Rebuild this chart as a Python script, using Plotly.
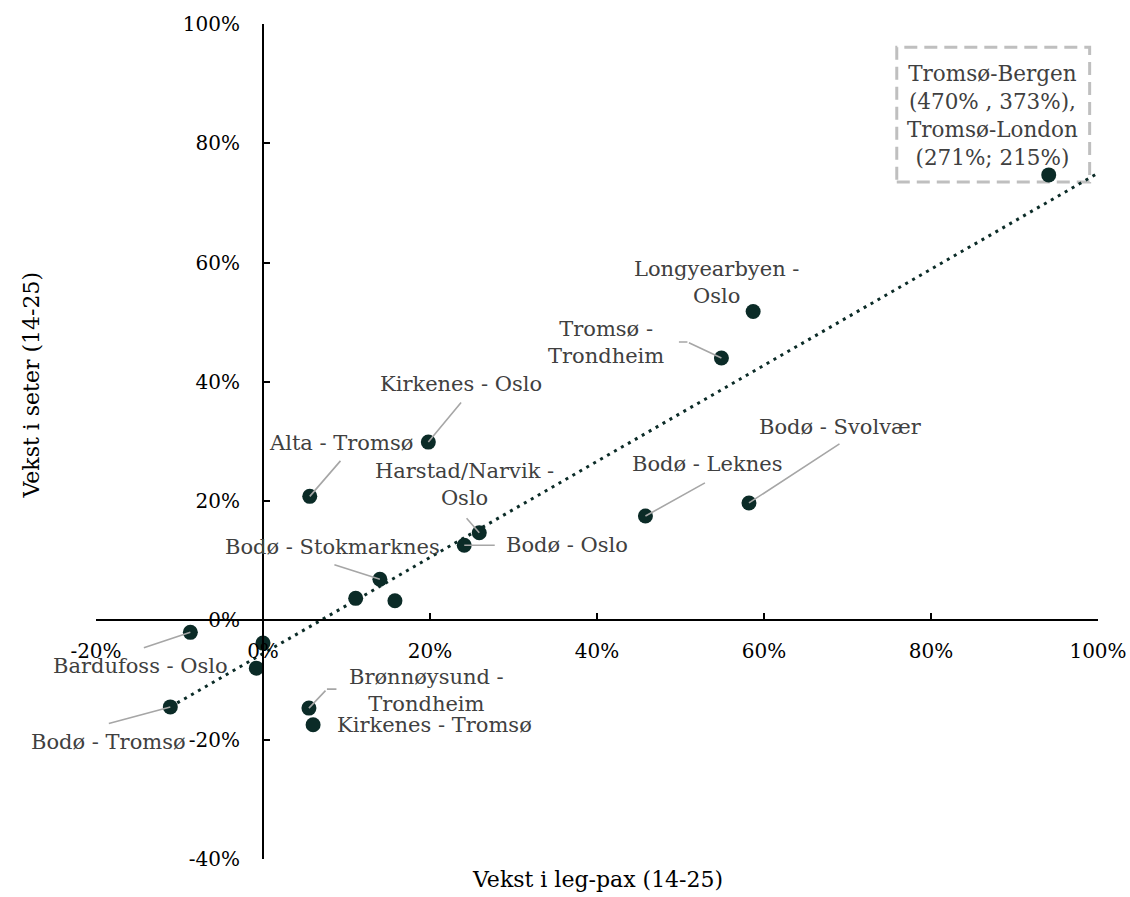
import plotly.graph_objects as go

# ---------------- data ----------------
routes = [
    "Tromsø-Bergen/London", "Longyearbyen - Oslo", "Tromsø - Trondheim", "Bodø - Svolvær",
    "Bodø - Leknes", "Kirkenes - Oslo", "Alta - Tromsø", "Harstad/Narvik - Oslo",
    "Bodø - Oslo", "Bodø - Stokmarknes", "Rute A", "Rute B", "Bardufoss - Oslo",
    "Rute C", "Rute D", "Bodø - Tromsø", "Brønnøysund - Trondheim", "Kirkenes - Tromsø",
]
legpax_growth = [94.1, 58.7, 54.9, 58.2, 45.8, 19.8, 5.6, 25.9, 24.1, 14.0, 11.1, 15.8,
                 -8.7, 0.0, -0.8, -11.1, 5.5, 6.0]
seat_growth = [74.7, 51.8, 44.0, 19.7, 17.5, 29.9, 20.8, 14.7, 12.6, 6.9, 3.7, 3.3,
               -2.0, -3.8, -8.0, -14.5, -14.7, -17.5]

trend_x = [-11.1, 100]
trend_y = [-14.5, 75.0]

x_ticks = [-20, 0, 20, 40, 60, 80, 100]
y_ticks = [-40, -20, 0, 20, 40, 60, 80, 100]
x_tick_labels = [f"{v}%" for v in x_ticks]
y_tick_labels = [f"{v}%" for v in y_ticks]

x_title = "Vekst i leg-pax (14-25)"
y_title = "Vekst i seter (14-25)"
box_text = "Tromsø-Bergen<br>(470% , 373%),<br>Tromsø-London<br>(271%; 215%)"

# label: (route index, text, text offset px (dx, dy-down), leader polyline offsets)
labels = [
    (1, "Longyearbyen -<br>Oslo", (-37, -29), []),
    (2, "Tromsø -<br>Trondheim", (-115, -16), [(-44, -16), (-34, -16)]),
    (3, "Bodø - Svolvær", (92, -76), [(92, -60)]),
    (4, "Bodø - Leknes", (62, -52), [(61, -34)]),
    (5, "Kirkenes - Oslo", (33, -58), [(34, -41)]),
    (6, "Alta - Tromsø", (31, -53), [(32, -37)]),
    (7, "Harstad/Narvik -<br>Oslo", (-15, -48), [(-14, -16)]),
    (8, "Bodø - Oslo", (103, 0), [(32, 0)]),
    (9, "Bodø - Stokmarknes", (-47, -32), [(-47, -15)]),
    (12, "Bardufoss - Oslo", (-50, 34), [(-48, 16)]),
    (15, "Bodø - Tromsø", (-62, 35), [(-63, 17)]),
    (16, "Brønnøysund -<br>Trondheim", (118, -18), [(29, -19), (18, -19)]),
    (17, "Kirkenes - Tromsø", (121, 0), []),
]

# ---------------- style ----------------
FONT = "DejaVu Serif"
DOT = "#0B2B27"
LABEL = "#404040"
LEADER = "#A6A6A6"
X_RANGE = [-20, 100]
Y_RANGE = [-40, 100]

fig = go.Figure()

fig.add_trace(go.Scatter(
    x=trend_x, y=trend_y, mode="lines",
    line=dict(color=DOT, width=3, dash="3px,5px"),
    hoverinfo="skip", showlegend=False,
))
fig.add_trace(go.Scatter(
    x=legpax_growth, y=seat_growth, mode="markers", text=routes,
    marker=dict(color=DOT, size=15),
    showlegend=False,
))

ann = []
for idx, text, (tdx, tdy), leader in labels:
    px, py = legpax_growth[idx], seat_growth[idx]
    ann.append(dict(x=px, y=py, xref="x", yref="y", text=text, showarrow=False,
                    xshift=tdx, yshift=-tdy, xanchor="center", yanchor="middle",
                    align="center", font=dict(family=FONT, size=21, color=LABEL)))
    pts = leader + [(0, 0)]
    for (sx, sy), (ex, ey) in zip(pts[:-1], pts[1:]):
        ann.append(dict(x=px, y=py, xref="x", yref="y", text="",
                        showarrow=True, arrowhead=0, arrowwidth=1.6, arrowcolor=LEADER,
                        xshift=ex, yshift=-ey, ax=sx - ex, ay=sy - ey,
                        standoff=0, startstandoff=0))

# box text (outlier note)
ann.append(dict(x=87.4, y=84.6, xref="x", yref="y", text=box_text, showarrow=False,
                xanchor="center", yanchor="middle", align="center",
                font=dict(family=FONT, size=21.5, color=LABEL)))

# axis titles
ann.append(dict(x=0.5, y=-0.025, xref="paper", yref="paper", text=x_title, showarrow=False,
                xanchor="center", yanchor="middle", font=dict(family=FONT, size=22, color="#000")))
ann.append(dict(x=-0.064, y=0.568, xref="paper", yref="paper", text=y_title, showarrow=False,
                textangle=-90, xanchor="center", yanchor="middle",
                font=dict(family=FONT, size=22, color="#000")))

fig.update_layout(
    width=1130, height=897,
    margin=dict(l=96, r=32, t=24, b=38, autoexpand=False),
    plot_bgcolor="white", paper_bgcolor="white",
    font=dict(family=FONT, size=20, color="#000"),
    annotations=ann,
    shapes=[dict(type="rect", xref="x", yref="y", x0=75.9, x1=99.0, y0=73.5, y1=96.1,
                 line=dict(color="#BFBFBF", width=3, dash="13px,7px"), layer="below")],
    xaxis=dict(range=X_RANGE, tickvals=x_ticks, ticktext=x_tick_labels, automargin=False,
               showgrid=False, zeroline=False, showline=True, linecolor="#000", linewidth=2,
               ticks="inside", ticklen=6, tickwidth=2, tickcolor="#000",
               anchor="free", position=(0 - Y_RANGE[0]) / (Y_RANGE[1] - Y_RANGE[0]),
               ticklabelstandoff=13, tickfont=dict(family=FONT, size=20, color="#000")),
    yaxis=dict(range=Y_RANGE, tickvals=y_ticks, ticktext=y_tick_labels, automargin=False,
               showgrid=False, zeroline=False, showline=True, linecolor="#000", linewidth=2,
               ticks="inside", ticklen=6, tickwidth=2, tickcolor="#000",
               anchor="free", position=(0 - X_RANGE[0]) / (X_RANGE[1] - X_RANGE[0]),
               ticklabelstandoff=18, tickfont=dict(family=FONT, size=20, color="#000")),
)

fig.write_html(
    "out.html",
    config={"displayModeBar": False},
    post_script="document.body.style.margin='0';document.body.style.overflow='hidden';",
)
